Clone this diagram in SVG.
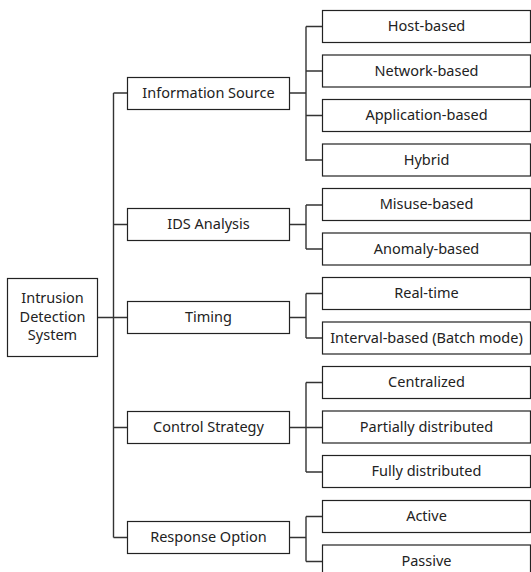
<svg xmlns="http://www.w3.org/2000/svg" width="531" height="572" viewBox="0 0 531 572">
<style>
.n rect{fill:#fff;stroke:#222;stroke-width:1.2}
text{font-family:"Noto Sans","Noto Sans CJK KR",sans-serif;font-size:14.5px;fill:#222;text-anchor:middle;dominant-baseline:central}
.c path{fill:none;stroke:#333;stroke-width:1.4}
</style>
<rect width="531" height="572" fill="#fff"/>
<g class="c" id="connectors">
<path d="M97 317.5H113.5M113.5 93V537.5M113.5 93H127M113.5 224.5H127M113.5 317.5H127M113.5 427.5H127M113.5 537.5H127"/>
<path d="M289 93H306M306 26.5V161M306 26.5H322M306 71H322M306 115.5H322M306 160H322"/>
<path d="M289 224.5H306M306 205V249M306 205H322M306 249H322"/>
<path d="M289 317.5H306M306 293.5V338M306 293.5H322M306 338H322"/>
<path d="M289 427.5H306M306 382.5V472M306 382.5H322M306 427.5H322M306 472H322"/>
<path d="M289 537.5H306M306 516.5V561.5M306 516.5H322M306 561.5H322"/>
</g>
<g class="n" id="root"><rect x="7.5" y="278.5" width="90" height="78"/><text x="52.5" y="296.5">Intrusion</text><text x="52.5" y="315.5">Detection</text><text x="52.5" y="334">System</text></g>
<g class="n" id="info"><rect x="127.5" y="77.5" width="162" height="32"/><text x="208.5" y="92">Information Source</text></g>
<g class="n" id="ids"><rect x="127.5" y="208.5" width="162" height="32"/><text x="208.5" y="223">IDS Analysis</text></g>
<g class="n" id="timing"><rect x="127.5" y="301.5" width="162" height="32"/><text x="208.5" y="316">Timing</text></g>
<g class="n" id="control"><rect x="127.5" y="411.5" width="162" height="32"/><text x="208.5" y="426">Control Strategy</text></g>
<g class="n" id="response"><rect x="127.5" y="521.5" width="162" height="32"/><text x="208.5" y="536">Response Option</text></g>
<g class="n" id="host"><rect x="322.5" y="10.5" width="208" height="32"/><text x="426.5" y="25">Host-based</text></g>
<g class="n" id="network"><rect x="322.5" y="55" width="208" height="32"/><text x="426.5" y="69.5">Network-based</text></g>
<g class="n" id="application"><rect x="322.5" y="99.5" width="208" height="32"/><text x="426.5" y="114">Application-based</text></g>
<g class="n" id="hybrid"><rect x="322.5" y="144" width="208" height="32"/><text x="426.5" y="158.5">Hybrid</text></g>
<g class="n" id="misuse"><rect x="322.5" y="188.5" width="208" height="32"/><text x="426.5" y="203">Misuse-based</text></g>
<g class="n" id="anomaly"><rect x="322.5" y="233" width="208" height="32"/><text x="426.5" y="247.5">Anomaly-based</text></g>
<g class="n" id="realtime"><rect x="322.5" y="277.5" width="208" height="32"/><text x="426.5" y="292">Real-time</text></g>
<g class="n" id="interval"><rect x="322.5" y="322" width="208" height="32"/><text x="426.5" y="336.5">Interval-based (Batch mode)</text></g>
<g class="n" id="centralized"><rect x="322.5" y="366.5" width="208" height="32"/><text x="426.5" y="381">Centralized</text></g>
<g class="n" id="partial"><rect x="322.5" y="411" width="208" height="32"/><text x="426.5" y="425.5">Partially distributed</text></g>
<g class="n" id="fully"><rect x="322.5" y="455.5" width="208" height="32"/><text x="426.5" y="470">Fully distributed</text></g>
<g class="n" id="active"><rect x="322.5" y="500.5" width="208" height="32"/><text x="426.5" y="515">Active</text></g>
<g class="n" id="passive"><rect x="322.5" y="545" width="208" height="32"/><text x="426.5" y="559.5">Passive</text></g>
</svg>
